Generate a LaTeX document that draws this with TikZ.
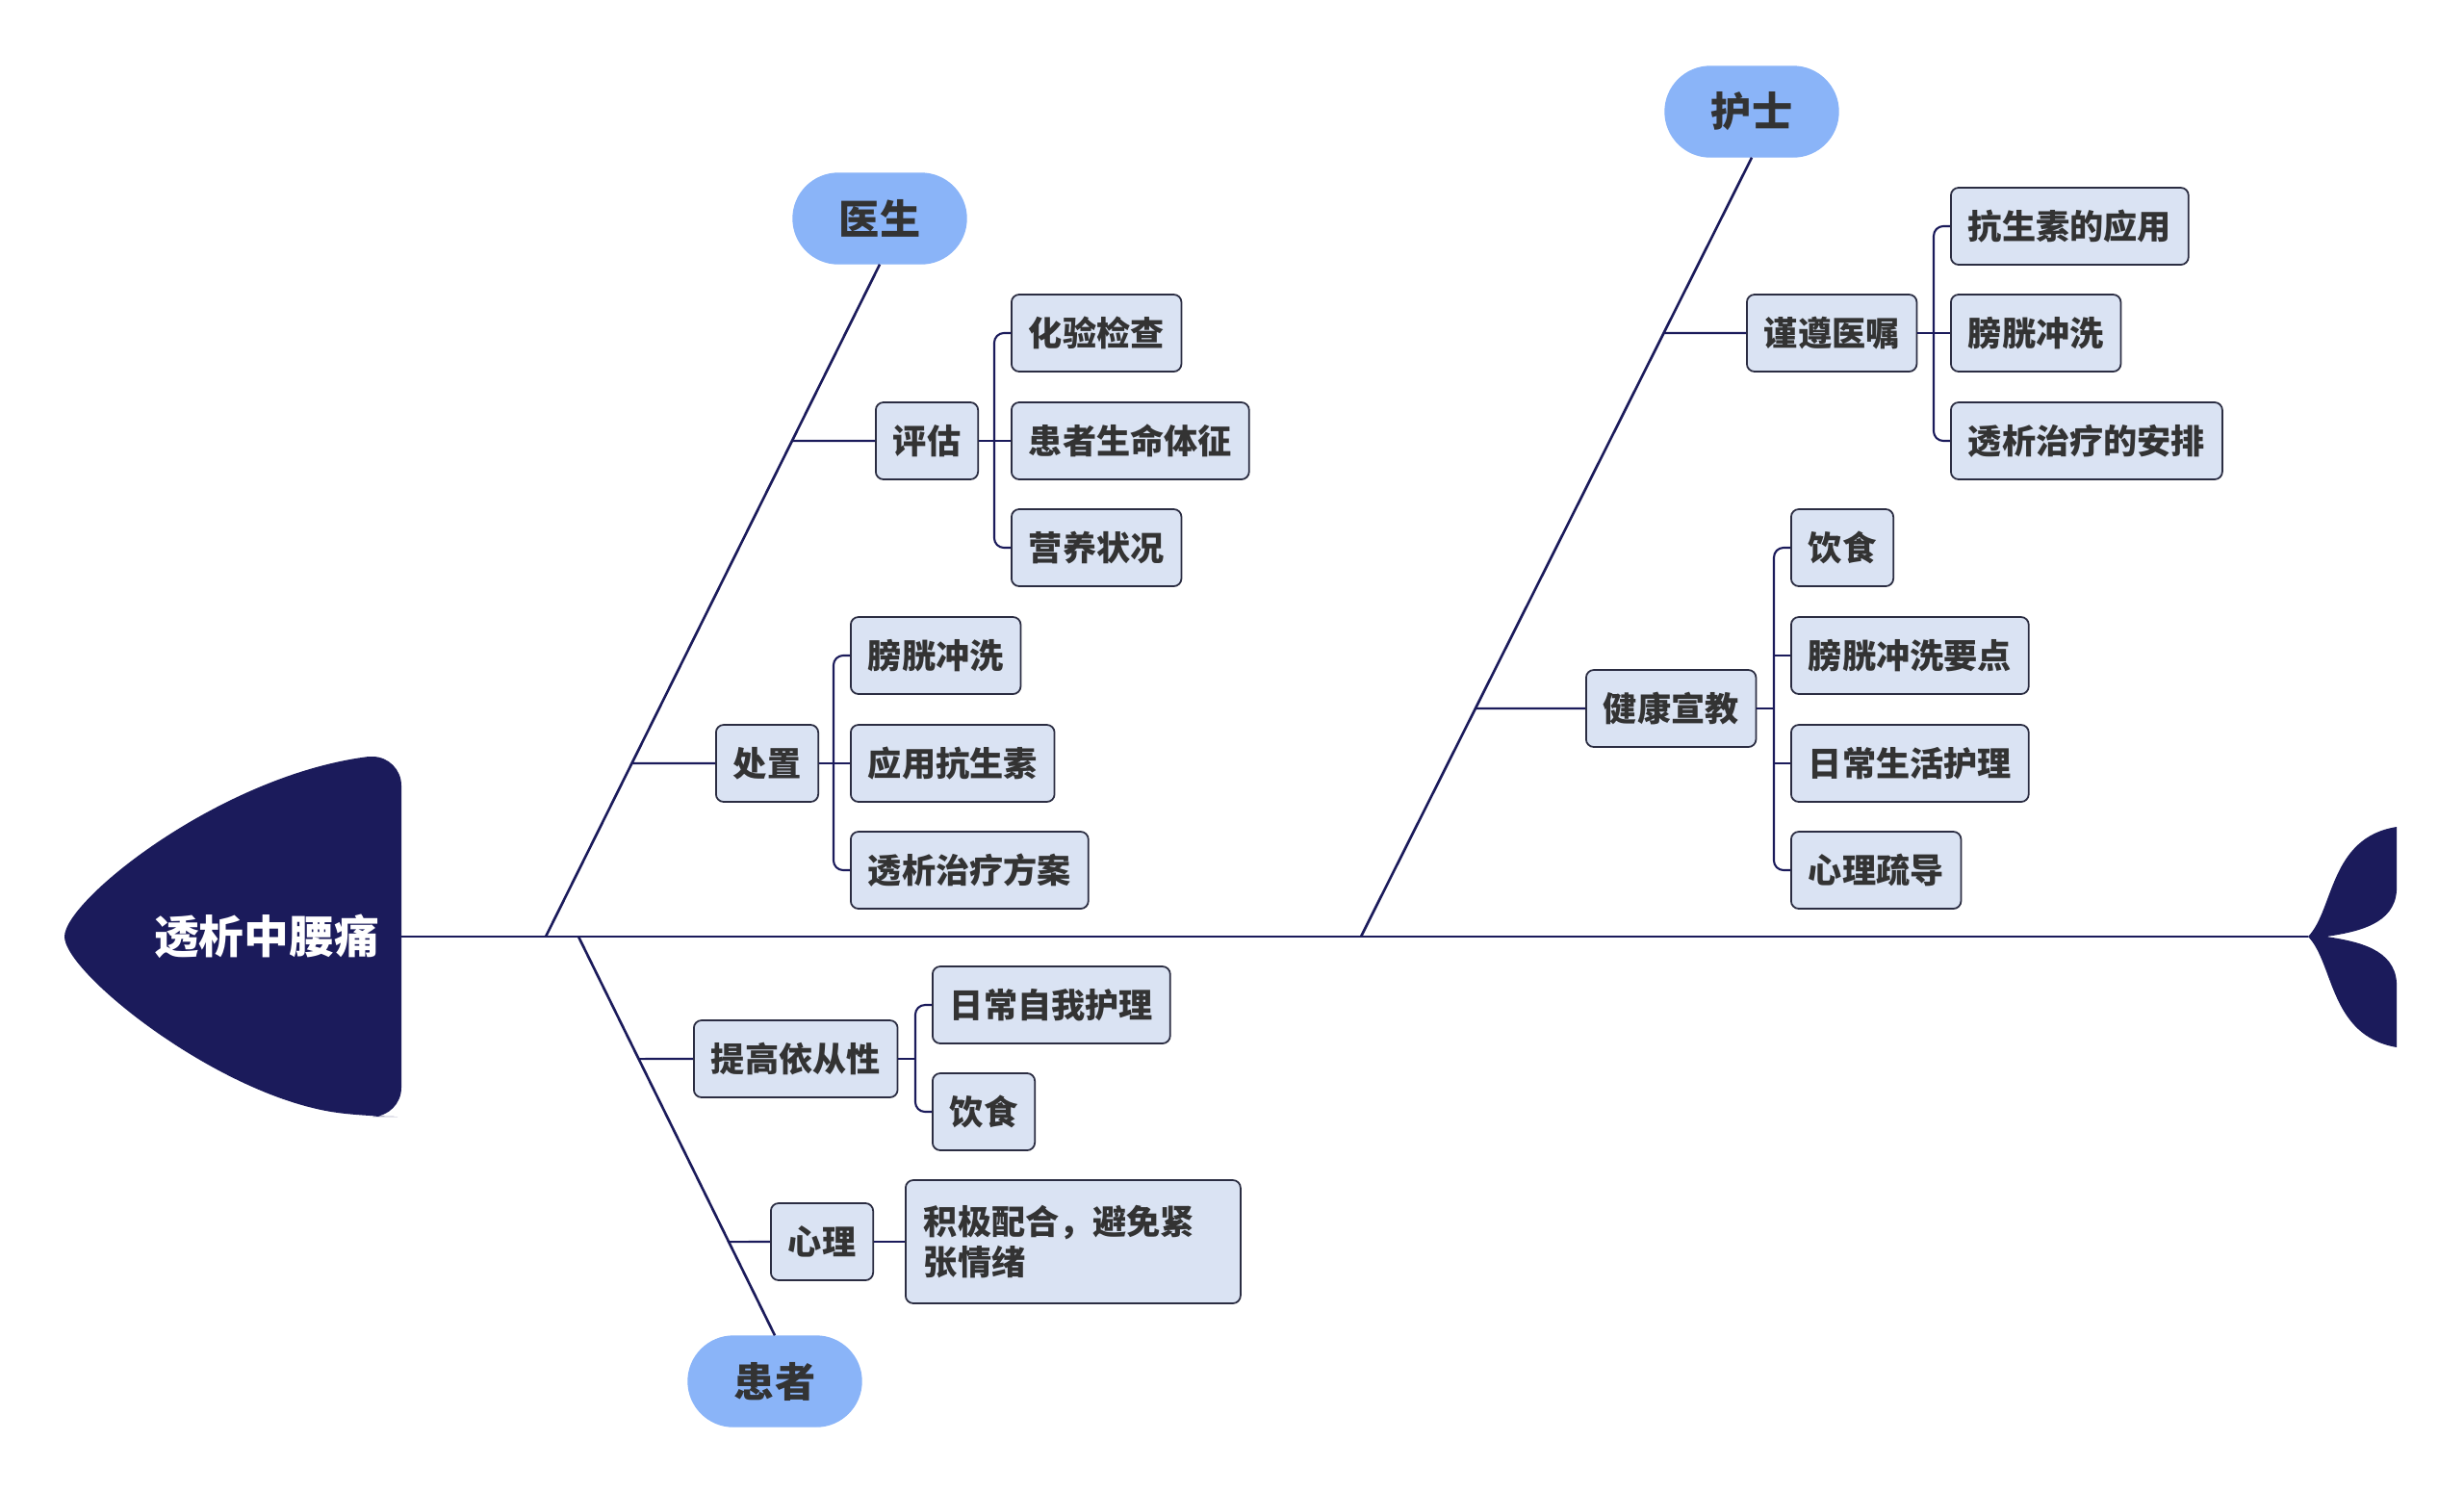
\documentclass[tikz,border=0pt]{standalone}
\usepackage{fontspec}
\setmainfont{Noto Sans CJK SC}
\usepackage{tikz}
\definecolor{fishnavy}{HTML}{1B1B5B}
\definecolor{pillblue}{HTML}{8AB4F8}
\definecolor{boxfill}{HTML}{DAE3F3}
\definecolor{boxline}{HTML}{2B2D42}
\definecolor{txtgray}{HTML}{333333}
\pgfkeys{tikz/bone/.style={fishnavy, line width=0.75pt}}
\pgfkeys{tikz/twig/.style={fishnavy, line width=0.6pt}}
\pgfkeys{tikz/pill/.style={fill=pillblue, draw=pillblue, 
                               minimum width=1.80cm, 
                               minimum height=0.94cm, 
                               rounded corners=0.47cm, 
                               text=txtgray, 
                               font=\fontsize{12}{14}\selectfont\bfseries}}
\pgfkeys{tikz/item/.style={draw=boxline, fill=boxfill, line width=0.5pt, 
                               rounded corners=0.08cm, 
                               minimum height=0.80cm, 
                               inner xsep=0.18cm, 
                               anchor=west, 
                               text=txtgray, 
                               font=\fontsize{10}{12}\selectfont\bfseries}}

\begin{document}
\begin{tikzpicture}
                \useasboundingbox (0,0) rectangle (25.6,-15.49);

                % head and tail
                \fill[fishnavy] (0.67,-9.73) .. controls (0.67,-9.35) and (2.30,-8.05) .. (3.83,-7.86)
                    [rounded corners=0.3cm] -- (4.17,-7.86) -- (4.17,-11.60) -- (3.83,-11.60)
                    [sharp corners] .. controls (2.30,-11.41) and (0.67,-10.11) .. cycle;
                \node[text=white, font=\fontsize{13.3}{16}\selectfont\bfseries] (head) at (2.77,-9.73) {透析中腰痛};

                \coordinate (h) at (4.17,-9.73);
                \coordinate (t) at (23.98,-9.73);
                \fill[fishnavy] (t) .. controls (24.25,-9.45) and (24.20,-8.70) .. (24.90,-8.59)
                    -- (24.90,-9.25) .. controls (24.88,-9.60) and (24.50,-9.68) .. (24.17,-9.73)
                    .. controls (24.50,-9.78) and (24.88,-9.86) .. (24.90,-10.21)
                    -- (24.90,-10.88) .. controls (24.20,-10.76) and (24.25,-10.01) .. cycle;
                \draw[bone] (h) -- (t);

                % bones
                \node[pill] (doc) at (9.14,-2.27) {医生};
                \node[pill] (nurse) at (18.20,-1.16) {护士};
                \node[pill] (pat) at (8.05,-14.35) {患者};

                \coordinate (b1) at (5.67,-9.73);
                \coordinate (b2) at (14.14,-9.73);
                \coordinate (b3) at (6.01,-9.73);

                \draw[bone] (b1) -- (doc.south);
                \draw[bone] (b2) -- (nurse.south);
                \draw[bone] (b3) -- (pat.north);

                % 医生
                \node[item] (p1) at (9.09,-4.58) {评估};
                \node[item] (c1) at (10.50,-3.46) {化验检查};
                \node[item] (c2) at (10.50,-4.58) {患者生命体征};
                \node[item] (c3) at (10.50,-5.69) {营养状况};

                \node[item] (p2) at (7.43,-7.93) {处置};
                \node[item] (c4) at (8.83,-6.81) {膀胱冲洗};
                \node[item] (c5) at (8.83,-7.93) {应用抗生素};
                \node[item] (c6) at (8.83,-9.04) {透析治疗方案};

                % 护士
                \node[item] (p3) at (18.14,-3.46) {谨遵医嘱};
                \node[item] (c7) at (20.26,-2.35) {抗生素的应用};
                \node[item] (c8) at (20.26,-3.46) {膀胱冲洗};
                \node[item] (c9) at (20.26,-4.58) {透析治疗的安排};

                \node[item] (p4) at (16.47,-7.36) {健康宣教};
                \node[item] (c10) at (18.60,-5.69) {饮食};
                \node[item] (c11) at (18.60,-6.81) {膀胱冲洗要点};
                \node[item] (c12) at (18.60,-7.93) {日常生活护理};
                \node[item] (c13) at (18.60,-9.04) {心理疏导};

                % 患者
                \node[item] (p5) at (7.20,-11.00) {提高依从性};
                \node[item] (c14) at (9.68,-10.44) {日常自我护理};
                \node[item] (c15) at (9.68,-11.55) {饮食};

                \node[item] (p6) at (8.00,-12.90) {心理};
                \node[item, minimum width=3.48cm, minimum height=1.28cm, 
                      text width=3.1cm, align=left] (c16) at (9.40,-12.90) {积极配合，避免紧\\张情绪};

                % joints on the bones
                \coordinate (j1) at (intersection of b1--doc.south and p1.west--p1.east);
                \coordinate (j2) at (intersection of b1--doc.south and p2.west--p2.east);
                \coordinate (j3) at (intersection of b2--nurse.south and p3.west--p3.east);
                \coordinate (j4) at (intersection of b2--nurse.south and p4.west--p4.east);
                \coordinate (j5) at (intersection of b3--pat.north and p5.west--p5.east);
                \coordinate (j6) at (intersection of b3--pat.north and p6.west--p6.east);

                \draw[twig] (j1) -- (p1.west);
                \draw[twig] (j2) -- (p2.west);
                \draw[twig] (j3) -- (p3.west);
                \draw[twig] (j4) -- (p4.west);
                \draw[twig] (j5) -- (p5.west);
                \draw[twig] (j6) -- (p6.west);

                % brackets
                \coordinate (k1) at ([xshift=-0.17cm]c1.west);
                \coordinate (k2) at ([xshift=-0.17cm]c4.west);
                \coordinate (k3) at ([xshift=-0.17cm]c7.west);
                \coordinate (k4) at ([xshift=-0.17cm]c10.west);
                \coordinate (k5) at ([xshift=-0.17cm]c14.west);

                \draw[twig, rounded corners=0.1cm] (c1.west) -- (k1 |- c1.west) -- (k1 |- c3.west) -- (c3.west);
                \draw[twig] (p1.east) -- (c2.west);
                \draw[twig, rounded corners=0.1cm] (c4.west) -- (k2 |- c4.west) -- (k2 |- c6.west) -- (c6.west);
                \draw[twig] (p2.east) -- (c5.west);
                \draw[twig, rounded corners=0.1cm] (c7.west) -- (k3 |- c7.west) -- (k3 |- c9.west) -- (c9.west);
                \draw[twig] (p3.east) -- (c8.west);
                \draw[twig, rounded corners=0.1cm] (c10.west) -- (k4 |- c10.west) -- (k4 |- c13.west) -- (c13.west);
                \draw[twig] (c11.west) -- (k4 |- c11.west);
                \draw[twig] (c12.west) -- (k4 |- c12.west);
                \draw[twig] (p4.east) -- (p4.east -| k4);
                \draw[twig, rounded corners=0.1cm] (c14.west) -- (k5 |- c14.west) -- (k5 |- c15.west) -- (c15.west);
                \draw[twig] (p5.east) -- (p5.east -| k5);
                \draw[twig] (p6.east) -- (c16.west);

\end{tikzpicture}
\end{document}
